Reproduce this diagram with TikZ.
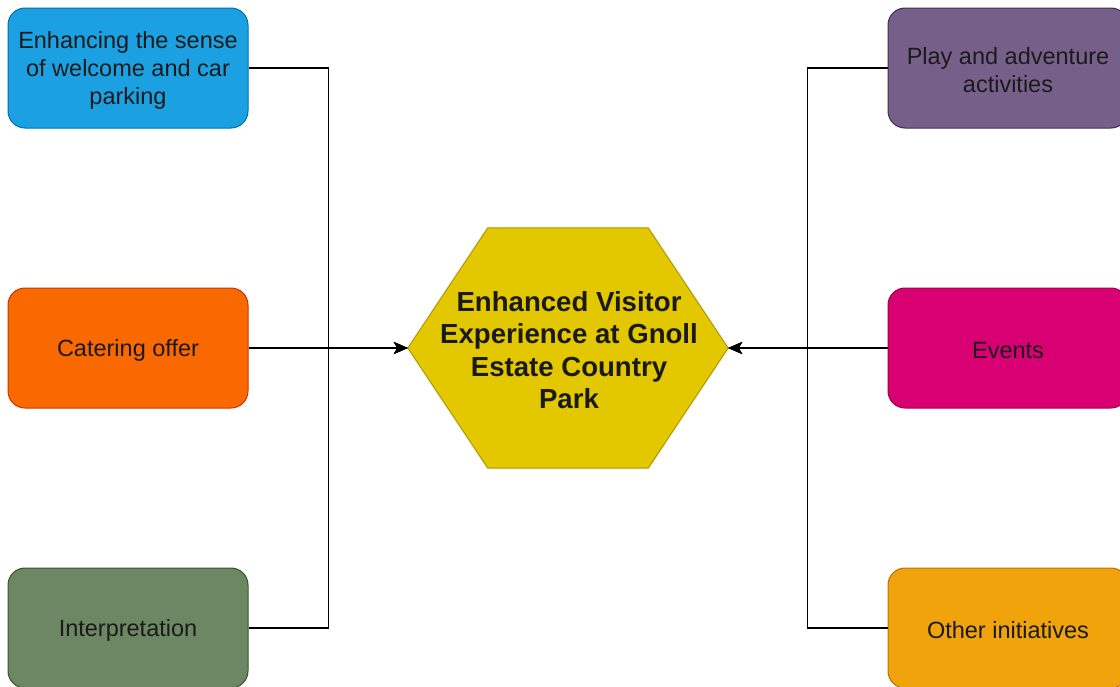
\documentclass[tikz,border=0pt]{standalone}
\usepackage{fontspec}
\setmainfont{Liberation Sans}
\usetikzlibrary{arrows.meta,calc}
\definecolor{bfill}{HTML}{1BA1E2}\definecolor{bline}{HTML}{006EAF}
\definecolor{ofill}{HTML}{FA6800}\definecolor{oline}{HTML}{C73500}
\definecolor{gfill}{HTML}{6D8764}\definecolor{gline}{HTML}{3A5431}
\definecolor{pfill}{HTML}{76608A}\definecolor{pline}{HTML}{432D57}
\definecolor{mfill}{HTML}{D80073}\definecolor{mline}{HTML}{A50040}
\definecolor{afill}{HTML}{F0A30A}\definecolor{aline}{HTML}{BD7000}
\definecolor{yfill}{HTML}{E3C800}\definecolor{yline}{HTML}{B09500}
\definecolor{txt}{HTML}{1A1A1A}
\begin{document}
\begin{tikzpicture}[x=1pt,y=-1pt,
  box/.style={rectangle,rounded corners=17pt,minimum width=240pt,minimum height=120pt,
    line width=1pt,inner sep=0pt},
  boxtext/.style={align=center,inner sep=0pt,text=txt,yshift=-2.5pt,
    font=\fontsize{23.5}{28}\selectfont},
  conn/.style={line width=1.3pt,draw=black},
  tip/.style={-{Stealth[length=14pt,width=12pt,inset=3.5pt]}}]
\useasboundingbox (0,0) rectangle (1120,686);
% left boxes
\node[box,fill=bfill,draw=bline] (lt) at (128,68) {};
\node[boxtext] (ltt) at (lt.center) {Enhancing the sense\\of welcome and car\\parking};
\node[box,fill=ofill,draw=oline] (lm) at (128,348) {};
\node[boxtext] (lmt) at (lm.center) {Catering offer};
\node[box,fill=gfill,draw=gline] (lb) at (128,628) {};
\node[boxtext] (lbt) at (lb.center) {Interpretation};
% right boxes
\node[box,fill=pfill,draw=pline] (rt) at (1008,68) {};
\node[boxtext] (rtt) at (rt.center) {Play and adventure\\activities};
\node[box,fill=mfill,draw=mline] (rm) at (1008,348) {};
\node[boxtext] (rmt) at (rm.center) {Events};
\node[box,fill=afill,draw=aline] (rb) at (1008,628) {};
\node[boxtext] (rbt) at (rb.center) {Other initiatives};
% hexagon
\node[minimum width=320pt,minimum height=240pt,inner sep=0pt] (hex) at (568,348) {};
\fill[yfill,draw=yline,line width=1pt]
  (hex.west) -- ($(hex.north west)+(80,0)$) -- ($(hex.north east)+(-80,0)$)
  -- (hex.east) -- ($(hex.south east)+(-80,0)$) -- ($(hex.south west)+(80,0)$) -- cycle;
\node[align=center,text=txt,font=\fontsize{27.6}{32.3}\selectfont\bfseries] (hext) at (569,350)
  {Enhanced Visitor\\Experience at Gnoll\\Estate Country\\Park};
% connectors
\draw[conn,tip] (lt.east) -- ++(80,0) |- (hex.west);
\draw[conn,tip] (lb.east) -- ++(80,0) |- (hex.west);
\draw[conn,tip] (lm.east) -- (hex.west);
\draw[conn,tip] (rt.west) -- ++(-80,0) |- (hex.east);
\draw[conn,tip] (rb.west) -- ++(-80,0) |- (hex.east);
\draw[conn,tip] (rm.west) -- (hex.east);
\end{tikzpicture}
\end{document}
